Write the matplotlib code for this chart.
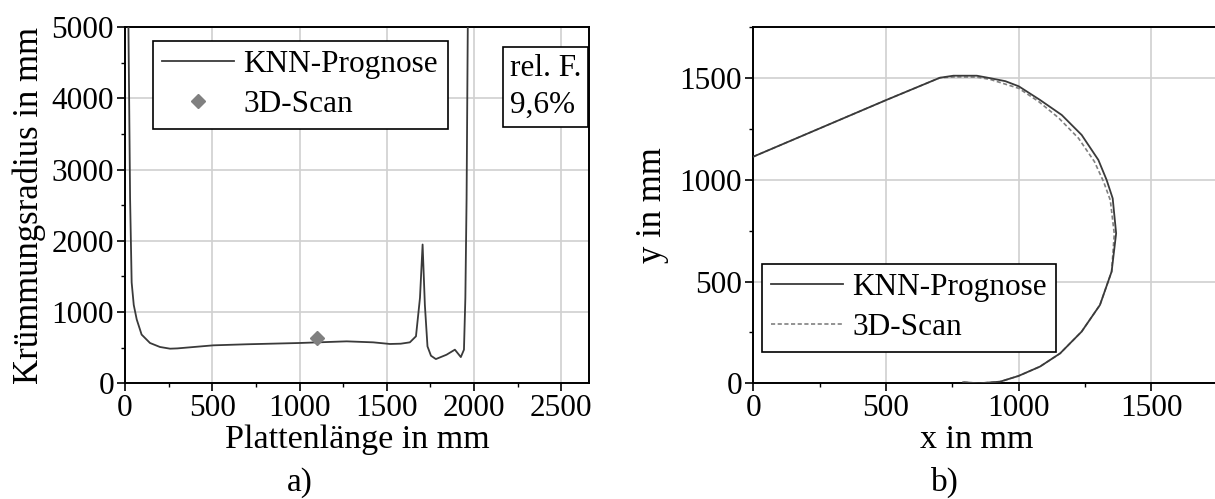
import numpy as np
import matplotlib
matplotlib.use("Agg")
import matplotlib.pyplot as plt
from matplotlib.ticker import MultipleLocator

plt.rcParams['font.family'] = ['Liberation Serif', 'DejaVu Serif']

# a) Kruemmungsradius ueber Plattenlaenge
knn_x = [18, 29, 38, 50, 67, 95, 143, 200, 258, 300, 506, 700, 1002, 1270, 1422,
         1518, 1580, 1632, 1667, 1690, 1705, 1718, 1733, 1753, 1781, 1842, 1890,
         1924, 1942, 1950, 1957, 1965]
knn_r = [5400, 2596, 1416, 1100, 897, 684, 566, 510, 486, 490, 533, 548, 566, 589, 575,
         552, 556, 575, 660, 1200, 1949, 1100, 518, 387, 340, 401, 472,
         368, 472, 1200, 2596, 5400]
scan_x = [1100]
scan_r = [630]

# b) Kontur
kontur_x = [0, 500, 703, 754, 842, 892, 950, 1000, 1080, 1162, 1237, 1300, 1331, 1354,
            1367, 1350, 1306, 1237, 1156, 1080, 999, 930, 850, 791]
kontur_y = [1114, 1392, 1502, 1512, 1512, 1500, 1485, 1460, 1393, 1319, 1221, 1098, 1000, 909,
            737, 549, 385, 254, 147, 82, 36, 8, 0, 5]
scan_kx = [0, 500, 703, 760, 842, 892, 1000, 1075, 1150, 1225, 1285, 1320, 1345,
           1360, 1350, 1306, 1237, 1156, 1080, 999, 930, 850, 791]
scan_ky = [1114, 1392, 1502, 1506, 1505, 1494, 1450, 1385, 1305, 1205, 1090, 990, 900,
           735, 549, 385, 254, 147, 82, 36, 8, 0, 5]

line_col = '#3a3a3a'
scan_col = '#808080'
fs = 22.5

fig = plt.figure(figsize=(12.15, 4.99), dpi=100)
ax1 = fig.add_axes([0.1029, 0.2319, 0.3821, 0.7134])
ax2 = fig.add_axes([0.620, 0.2319, 0.3823, 0.7134])

ax1.plot(knn_x, knn_r, color=line_col, lw=1.3, label='KNN-Prognose', zorder=3)
ax1.plot(scan_x, scan_r, ls='none', marker='D', ms=7, color=scan_col,
         label='3D-Scan', zorder=4)
ax1.set_xlim(0, 2660)
ax1.set_ylim(0, 5000)
ax1.xaxis.set_major_locator(MultipleLocator(500))
ax1.xaxis.set_minor_locator(MultipleLocator(250))
ax1.yaxis.set_major_locator(MultipleLocator(1000))
ax1.yaxis.set_minor_locator(MultipleLocator(500))
ax1.set_xlabel('Plattenlänge in mm', fontsize=24.5)
ax1.xaxis.set_label_coords(0.5, -0.115)
ax1.set_ylabel('Krümmungsradius in mm', fontsize=25, labelpad=4)
leg1 = ax1.legend(loc='upper left', bbox_to_anchor=(0.06, 0.962), fontsize=fs,
                  fancybox=False, edgecolor='black', framealpha=1,
                  handlelength=2.3, borderpad=0.3, labelspacing=0.35,
                  handletextpad=0.3, borderaxespad=0)
leg1.get_frame().set_linewidth(1.2)
ax1.text(0.829, 0.925, 'rel. F.\n9,6%', transform=ax1.transAxes, fontsize=fs,
         va='top', ha='left', linespacing=1.35,
         bbox=dict(boxstyle='square,pad=0.22', fc='white', ec='black', lw=1.2))
ax1.text(0.377, -0.3025, 'a)', transform=ax1.transAxes, fontsize=24, ha='center', va='baseline')

ax2.plot(kontur_x, kontur_y, color=line_col, lw=1.3, label='KNN-Prognose', zorder=3)
ax2.plot(scan_kx, scan_ky, color=scan_col, lw=1.2, ls=(0, (2.5, 1.5)),
         label='3D-Scan', zorder=2)
ax2.set_xlim(0, 1750)
ax2.set_ylim(0, 1750)
ax2.xaxis.set_major_locator(MultipleLocator(500))
ax2.xaxis.set_minor_locator(MultipleLocator(250))
ax2.yaxis.set_major_locator(MultipleLocator(500))
ax2.yaxis.set_minor_locator(MultipleLocator(250))
ax2.set_xlabel('x in mm', fontsize=24.5)
ax2.xaxis.set_label_coords(0.48, -0.115)
ax2.set_ylabel('y in mm', fontsize=25, labelpad=8)
leg2 = ax2.legend(loc='lower left', bbox_to_anchor=(0.018, 0.089), fontsize=fs,
                  fancybox=False, edgecolor='black', framealpha=1,
                  handlelength=2.3, borderpad=0.3, labelspacing=0.35,
                  handletextpad=0.3, borderaxespad=0)
leg2.get_frame().set_linewidth(1.2)
ax2.text(0.413, -0.3025, 'b)', transform=ax2.transAxes, fontsize=24, ha='center', va='baseline')

for ax in (ax1, ax2):
    ax.grid(True, which='major', color='#d0d0d0', lw=1.2, zorder=0)
    ax.set_axisbelow(True)
    ax.tick_params(which='major', direction='out', length=6, width=1.2, labelsize=fs, pad=2)
    ax.tick_params(which='minor', direction='out', length=3, width=1.0)
    for s in ax.spines.values():
        s.set_linewidth(1.4)

fig.savefig('out.png', dpi=100)
